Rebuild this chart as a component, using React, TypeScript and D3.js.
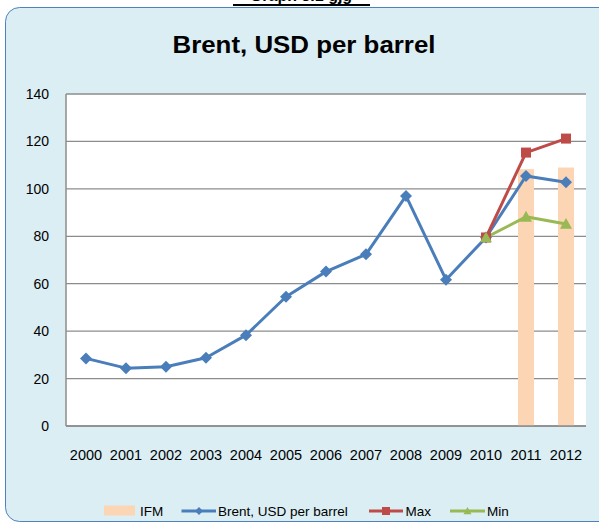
import React from "react";
import * as d3 from "d3";

const years = ["2000","2001","2002","2003","2004","2005","2006","2007","2008","2009","2010","2011","2012"];
const brent = [28.5, 24.4, 25.0, 28.8, 38.3, 54.5, 65.1, 72.4, 97.0, 61.7, 79.5, 105.4, 102.8];
const maxSeries: (number | null)[] = [null,null,null,null,null,null,null,null,null,null, 79.5, 115.3, 121.2];
const minSeries: (number | null)[] = [null,null,null,null,null,null,null,null,null,null, 79.5, 88.2, 85.2];
const ifm: (number | null)[] = [null,null,null,null,null,null,null,null,null,null,null, 108.3, 109.0];
const yTicks = [0, 20, 40, 60, 80, 100, 120, 140];
const legendLabels = ["IFM", "Brent, USD per barrel", "Max", "Min"];

const W = 599, H = 524;
const plot = { left: 66, right: 586, top: 94, bottom: 426 };
const C = { brent: "#4a7ebb", max: "#be4b48", min: "#98b954", ifm: "#fcd5b5", grid: "#8c8c8c" };
const font = "'Liberation Sans', Arial, sans-serif";

function diamond(cx: number, cy: number, r: number) {
  return `M${cx},${cy - r}L${cx + r},${cy}L${cx},${cy + r}L${cx - r},${cy}Z`;
}
function triangle(cx: number, cy: number, r: number) {
  return `M${cx},${cy - r}L${cx + r},${cy + r * 0.8}L${cx - r},${cy + r * 0.8}Z`;
}

export default function App() {
  const x = d3.scaleBand().domain(years).range([plot.left, plot.right]);
  const y = d3.scaleLinear().domain([0, 140]).range([plot.bottom, plot.top]);
  const cx = (i: number) => (x(years[i]) as number) + x.bandwidth() / 2;
  const line = d3.line<[number, number | null]>()
    .defined(d => d[1] != null)
    .x(d => cx(d[0]))
    .y(d => y(d[1] as number));
  const toPts = (arr: (number | null)[]) => arr.map((v, i) => [i, v] as [number, number | null]);
  const barW = x.bandwidth() * 0.4;

  return (
    <svg width={W} height={H} style={{ position: "absolute", left: 0, top: 0 }} xmlns="http://www.w3.org/2000/svg">
      <rect x={0} y={0} width={W} height={H} fill="#ffffff" />
      {/* cut-off heading */}
      <text x={301} y={1} textAnchor="middle" fontFamily={font} fontWeight="bold" fontSize={16} fill="#000">Graph 3.1 gjg</text>
      <rect x={233} y={4} width={137} height={2} fill="#000" />
      {/* chart box */}
      <rect x={5.5} y={7.5} width={640} height={514} rx={14} fill="#dbeef4" stroke="#4f81bd" strokeWidth={1} />
      {/* title */}
      <text x={304} y={53} textAnchor="middle" fontFamily={font} fontWeight="bold" fontSize={24} textLength={263} lengthAdjust="spacingAndGlyphs" fill="#000">Brent, USD per barrel</text>
      {/* plot area */}
      <rect x={plot.left} y={plot.top} width={plot.right - plot.left} height={plot.bottom - plot.top} fill="#ffffff" />
      {yTicks.map(t => (
        <g key={t}>
          <line x1={plot.left} x2={plot.right} y1={y(t)} y2={y(t)} stroke={C.grid} strokeWidth={1.3} />
          <text x={49} y={y(t) + 5} textAnchor="end" fontFamily={font} fontSize={14} fill="#000">{t}</text>
        </g>
      ))}
      <line x1={plot.left} x2={plot.left} y1={plot.top} y2={plot.bottom} stroke={C.grid} strokeWidth={1.5} />
      {years.map((yr, i) => (
        <text key={yr} x={cx(i)} y={460} textAnchor="middle" fontFamily={font} fontSize={14.5} fill="#000">{yr}</text>
      ))}
      {/* IFM bars */}
      {ifm.map((v, i) => v == null ? null : (
        <rect key={i} x={cx(i) - barW / 2} y={y(v)} width={barW} height={y(0) - y(v)} fill={C.ifm} />
      ))}
      <line x1={plot.left} x2={plot.right} y1={plot.bottom} y2={plot.bottom} stroke={C.grid} strokeWidth={1.5} />
      {/* Lines */}
      <path d={line(toPts(brent)) || ""} fill="none" stroke={C.brent} strokeWidth={3} strokeLinejoin="round" />
      <path d={line(toPts(maxSeries)) || ""} fill="none" stroke={C.max} strokeWidth={3} strokeLinejoin="round" />
      <path d={line(toPts(minSeries)) || ""} fill="none" stroke={C.min} strokeWidth={3} strokeLinejoin="round" />
      {brent.map((v, i) => <path key={"b" + i} d={diamond(cx(i), y(v), 6)} fill={C.brent} />)}
      {maxSeries.map((v, i) => v == null ? null : <rect key={"m" + i} x={cx(i) - 5} y={y(v) - 5} width={10} height={10} fill={C.max} />)}
      {minSeries.map((v, i) => v == null ? null : <path key={"n" + i} d={triangle(cx(i), y(v), 6)} fill={C.min} />)}
      {/* Legend */}
      <g fontFamily={font} fontSize={13.5} fill="#000">
        <rect x={104} y={505.5} width={31} height={10} fill={C.ifm} />
        <text x={140} y={516}>{legendLabels[0]}</text>
        <line x1={181.5} x2={216} y1={511} y2={511} stroke={C.brent} strokeWidth={3} />
        <path d={diamond(199, 511, 4)} fill={C.brent} />
        <text x={218} y={516}>{legendLabels[1]}</text>
        <line x1={369} x2={403} y1={511} y2={511} stroke={C.max} strokeWidth={3} />
        <rect x={382} y={507} width={8} height={8} fill={C.max} />
        <text x={405.5} y={516}>{legendLabels[2]}</text>
        <line x1={450} x2={485} y1={511} y2={511} stroke={C.min} strokeWidth={3} />
        <path d={triangle(467.5, 511, 4)} fill={C.min} />
        <text x={487} y={516}>{legendLabels[3]}</text>
      </g>
    </svg>
  );
}
